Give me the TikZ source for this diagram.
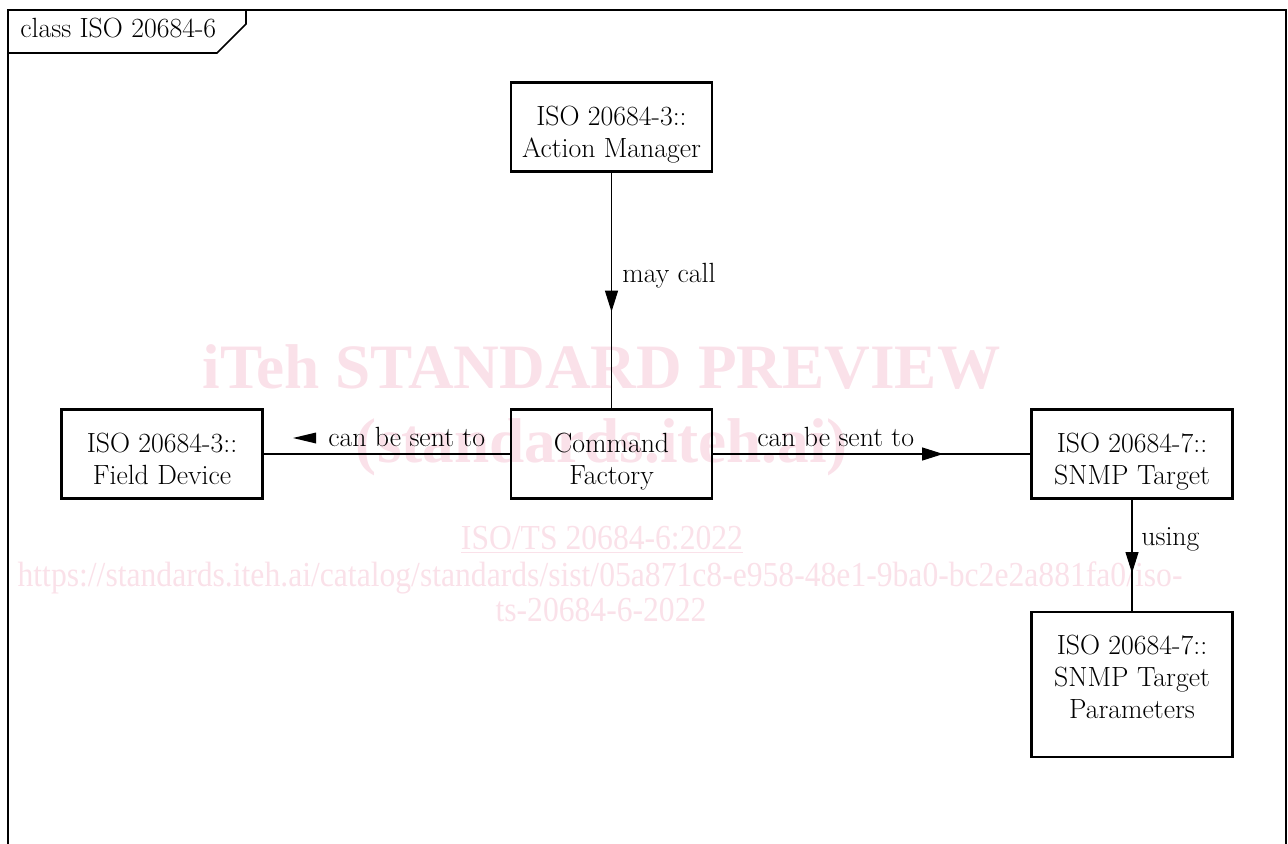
\documentclass[tikz,border=0pt]{standalone}
\usepackage{fontspec}
\usepackage{graphicx}
\usepackage{xcolor}
\usetikzlibrary{arrows.meta,decorations.markings}
\newfontfamily\wmfont{Liberation Serif}
\definecolor{wmpink}{RGB}{250,225,233}

\begin{document}
\begin{tikzpicture}[
  font=\fontsize{15.8}{18.2}\selectfont,
  % UML class box (two text lines, sitting a little low)
  box/.style={rectangle, draw, line width=1.3pt,
              minimum width=4.02cm, minimum height=1.78cm, align=center,
              inner sep=2pt, text height=1.30cm, text depth=0.1cm},
  % Association label (no box)
  lbl/.style={inner sep=0pt, anchor=base west},
  % Watermark text
  wmbig/.style={text=wmpink, inner sep=0pt,
                font=\wmfont\fontsize{36}{40}\selectfont\bfseries},
  wmsmall/.style={text=wmpink, inner sep=0pt,
                  font=\wmfont\fontsize{20}{24}\selectfont},
  conn/.style={line width=0.6pt},
  frm/.style={line width=0.9pt},
  midarr/.style={postaction={decorate},
                 decoration={markings, mark=at position #1 with
                   {\arrow{Triangle[length=4.2mm,width=2.6mm]}}}}
]
\useasboundingbox (0,0) rectangle (25.76,-16.86);

% ── Watermark (behind the diagram) ─────────────────────────────────────────
\node[wmbig]   (wm1) at (12.03,-7.34)  {iTeh STANDARD PREVIEW};
\node[wmbig]   (wm2) at (12.04,-8.94)  {(standards.iteh.ai)};
\node[wmsmall] (wm3) at (12.04,-10.8)  {\scalebox{0.9}[1]{\underline{ISO/TS 20684-6:2022}}};
\node[wmsmall] (wm4) at (12.0,-11.56)
  {\scalebox{0.9}[1]{https://standards.iteh.ai/catalog/standards/sist/05a871c8-e958-48e1-9ba0-bc2e2a881fa0/iso-}};
\node[wmsmall] (wm5) at (12.02,-12.2)  {\scalebox{0.9}[1]{ts-20684-6-2022}};

% ── Diagram frame with name tab ────────────────────────────────────────────
\draw[frm] (0.16,-16.9) -- (0.16,-0.2) -- (25.72,-0.2) -- (25.72,-16.9);
\draw[frm] (0.16,-1.06) -- (4.34,-1.06) -- (4.92,-0.48) -- (4.92,-0.2);
\node[lbl] (title) at (0.4,-0.76) {class ISO 20684-6};

% ── Classes ────────────────────────────────────────────────────────────────
\node[box] (actmgr) at (12.23,-2.54)  {ISO 20684-3::\\Action Manager};
\node[box] (cmdfac) at (12.23,-9.08)  {Command\\Factory};
\node[box] (fielddev) at (3.24,-9.08) {ISO 20684-3::\\Field Device};
\node[box] (snmptgt) at (22.64,-9.08) {ISO 20684-7::\\SNMP Target};
\node[box, minimum height=2.9cm, text height={}, text depth=0.32cm]
           (snmppar) at (22.64,-13.69) {ISO 20684-7::\\SNMP Target\\Parameters};

% ── Associations ───────────────────────────────────────────────────────────
\draw[conn, midarr=0.59]  (actmgr)  -- (cmdfac);
\draw[conn]               (cmdfac)  -- (fielddev);
\draw[conn, midarr=0.725] (cmdfac)  -- (snmptgt);
\draw[conn, midarr=0.66]  (snmptgt) -- (snmppar);

\node[lbl] (lmay)   at (12.44,-5.64) {may call};
\node[lbl] (lsentl) at (6.56,-8.92)  {can be sent to};
\node[lbl] (lsentr) at (15.14,-8.92) {can be sent to};
\node[lbl] (lusing) at (22.82,-10.9) {using};

% direction mark in front of the left label
\fill ([shift={(-0.24,0.27)}]lsentl.base west) -- ([shift={(-0.70,0.16)}]lsentl.base west)
  -- ([shift={(-0.24,0.05)}]lsentl.base west) -- cycle;

\end{tikzpicture}
\end{document}
